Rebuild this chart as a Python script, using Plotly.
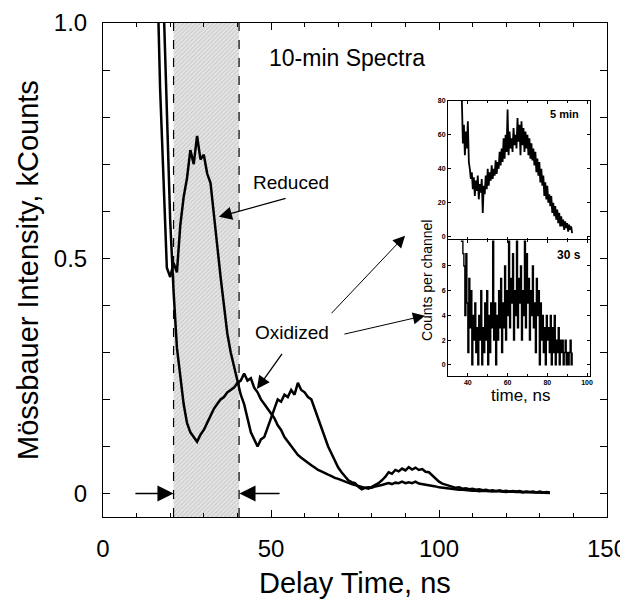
import plotly.graph_objects as go

# ---------------- data ----------------
delay_start_ns = 15
delay_step_ns = 1

reduced_kcounts = [
    1.60, 1.15, 0.86, 0.66, 0.48, 0.46, 0.49, 0.47, 0.57, 0.63,   # 15-24
    0.67, 0.73, 0.70, 0.76, 0.71, 0.72, 0.68, 0.66, 0.59, 0.53,   # 25-34
    0.46, 0.40, 0.34, 0.30, 0.27, 0.24, 0.21, 0.19, 0.16, 0.13,   # 35-44
    0.115, 0.10, 0.115, 0.12, 0.14, 0.16, 0.18, 0.20, 0.195, 0.21,  # 45-54
    0.205, 0.22, 0.21, 0.235, 0.22, 0.215, 0.205, 0.20, 0.18, 0.16,  # 55-64
    0.14, 0.12, 0.10, 0.085, 0.07, 0.055, 0.045, 0.036, 0.028, 0.024,  # 65-74
    0.022, 0.014, 0.009, 0.012, 0.010, 0.014, 0.018, 0.022, 0.028, 0.035,  # 75-84
    0.045, 0.042, 0.050, 0.047, 0.053, 0.049, 0.056, 0.051, 0.055, 0.050,  # 85-94
    0.052, 0.046, 0.045, 0.038, 0.030, 0.025, 0.021, 0.019, 0.016, 0.015,  # 95-104
    0.012, 0.013, 0.010, 0.011, 0.009, 0.010, 0.008, 0.009, 0.007, 0.008,  # 105-114
    0.006, 0.007, 0.005, 0.007, 0.005, 0.006, 0.004, 0.005, 0.004, 0.005,  # 115-124
    0.003, 0.004, 0.003, 0.004, 0.002, 0.004, 0.002, 0.003, 0.002,        # 125-133
]

oxidized_kcounts = [
    1.90, 1.55, 1.25, 1.05, 0.82, 0.58, 0.43, 0.31, 0.25, 0.19,   # 15-24
    0.15, 0.13, 0.12, 0.11, 0.125, 0.135, 0.15, 0.165, 0.18, 0.19,  # 25-34
    0.20, 0.205, 0.215, 0.22, 0.225, 0.235, 0.24, 0.255, 0.24, 0.245,  # 35-44
    0.225, 0.215, 0.20, 0.19, 0.18, 0.17, 0.16, 0.145, 0.135, 0.12,  # 45-54
    0.11, 0.10, 0.09, 0.082, 0.076, 0.07, 0.064, 0.06, 0.055, 0.05,  # 55-64
    0.047, 0.043, 0.04, 0.037, 0.033, 0.031, 0.028, 0.026, 0.022, 0.020,  # 65-74
    0.018, 0.016, 0.013, 0.012, 0.013, 0.012, 0.015, 0.016, 0.018, 0.020,  # 75-84
    0.022, 0.020, 0.023, 0.022, 0.025, 0.022, 0.024, 0.022, 0.025, 0.021,  # 85-94
    0.020, 0.019, 0.018, 0.016, 0.015, 0.013, 0.012, 0.011, 0.010, 0.009,  # 95-104
    0.009, 0.008, 0.008, 0.007, 0.007, 0.006, 0.006, 0.005, 0.006, 0.005,  # 105-114
    0.005, 0.004, 0.005, 0.004, 0.004, 0.003, 0.004, 0.003, 0.003, 0.003,  # 115-124
    0.002, 0.003, 0.002, 0.002, 0.002, 0.002, 0.001, 0.002, 0.001,        # 125-133
]

# inset: oxidized, 5-min and 30-s spectra
inset_start_5min = 37.0
inset_start_30s = 36.5
inset_step_ns = 0.5

counts_5min = [
    80, 55, 66, 48, 62, 52, 68, 44, 40, 34, 38, 28, 35, 24, 33, 27, 36, 22, 31, 26,
    34, 14, 30, 25, 36, 28, 40, 30, 38, 33, 42, 34, 40, 36, 45, 37, 44, 40, 50, 42,
    52, 44, 58, 46, 60, 50, 75, 48, 62, 52, 58, 50, 64, 54, 60, 52, 70, 56, 66, 48,
    68, 54, 64, 50, 62, 52, 60, 48, 58, 46, 55, 45, 52, 42, 50, 38, 46, 36, 44, 32,
    40, 30, 36, 24, 32, 22, 30, 20, 25, 18, 24, 14, 20, 12, 18, 10, 16, 8, 14, 6,
    12, 6, 10, 4, 9, 5, 8, 3, 7, 4, 6, 2,
]

counts_30s = [
    10, 10, 9, 8, 4, 9, 5, 1, 7, 3, 6, 0, 4, 2, 5, 1, 3, 0, 4, 2,
    6, 0, 3, 1, 5, 2, 6, 0, 4, 1, 5, 3, 10, 2, 5, 0, 4, 2, 6, 3,
    7, 1, 5, 3, 8, 2, 6, 4, 10, 3, 7, 5, 9, 2, 6, 4, 10, 3, 7, 5,
    8, 2, 6, 4, 10, 3, 9, 5, 7, 2, 6, 4, 8, 3, 5, 1, 7, 4, 6, 0,
    5, 2, 4, 1, 3, 0, 4, 2, 3, 1, 4, 0, 3, 1, 4, 0, 2, 1, 3, 0,
    2, 1, 2, 0, 1, 2, 0, 1, 0, 1, 2, 0, 1,
]

shade_start_ns = 21.0
shade_end_ns = 40.5

x_range = [0, 150]
y_range = [-0.05, 1.0]
x_tickvals = [0, 50, 100, 150]
y_tickvals = [0, 0.5, 1.0]
y_ticktext = ["0", "0.5", "1.0"]

inset_x_range = [30, 101.5]
inset_x_tickvals = [40, 60, 80, 100]
inset_5min_range = [-2, 80]
inset_5min_tickvals = [0, 20, 40, 60, 80]
inset_30s_range = [-0.9, 10.1]
inset_30s_tickvals = [0, 2, 4, 6, 8]

# ---------------- build ----------------
delay_ns = [delay_start_ns + i * delay_step_ns for i in range(len(reduced_kcounts))]
t_5min = [inset_start_5min + i * inset_step_ns for i in range(len(counts_5min))]
t_30s = [inset_start_30s + i * inset_step_ns for i in range(len(counts_30s))]

FONT = "Liberation Sans, Arial, Helvetica, sans-serif"

fig = go.Figure()

# hatched window
fig.add_trace(go.Scatter(
    x=[shade_start_ns, shade_end_ns, shade_end_ns, shade_start_ns, shade_start_ns],
    y=[y_range[0], y_range[0], y_range[1], y_range[1], y_range[0]],
    mode="lines", line=dict(width=0), fill="toself",
    fillcolor="#dedede",
    fillpattern=dict(shape="/", fgcolor="#a6a6a6", bgcolor="#e6e6e6", size=3, solidity=0.35),
    hoverinfo="skip", showlegend=False, xaxis="x", yaxis="y",
))

fig.add_trace(go.Scatter(x=delay_ns, y=oxidized_kcounts, mode="lines", name="Oxidized",
                         line=dict(color="black", width=2.5), showlegend=False))
fig.add_trace(go.Scatter(x=delay_ns, y=reduced_kcounts, mode="lines", name="Reduced",
                         line=dict(color="black", width=2.5), showlegend=False))

fig.add_trace(go.Scatter(x=t_5min, y=counts_5min, mode="lines", xaxis="x2", yaxis="y2",
                         line=dict(color="black", width=1.8), showlegend=False))
fig.add_trace(go.Scatter(x=t_30s, y=counts_30s, mode="lines", xaxis="x3", yaxis="y3",
                         line=dict(color="black", width=1.4, shape="hv"), showlegend=False))

axis_common = dict(showline=True, linecolor="black", linewidth=1, mirror="ticks",
                   ticks="inside", tickcolor="black", showgrid=False, zeroline=False,
                   automargin=False)

inset_x = [0.6845, 0.9663]
dom_30s = [0.2854, 0.5607]
dom_5min = [0.5607, 0.8421]

# the page adds an 8px body margin, so margins are shifted up/left by 8px
fig.update_layout(
    width=628, height=604,
    margin=dict(l=95, r=29, t=15, b=95),
    paper_bgcolor="white", plot_bgcolor="white",
    font=dict(family=FONT, color="black"),
    xaxis=dict(**axis_common, range=x_range, tickvals=x_tickvals, ticklen=7,
               minor=dict(dtick=10, ticks="inside", ticklen=4, tickcolor="black"),
               tickfont=dict(size=24), ticklabelstandoff=10),
    yaxis=dict(**axis_common, range=y_range, tickvals=y_tickvals, ticktext=y_ticktext,
               ticklen=7, minor=dict(dtick=0.1, ticks="inside", ticklen=7, tickcolor="black"),
               tickfont=dict(size=24), ticklabelstandoff=10),
    xaxis2=dict(**axis_common, domain=inset_x, anchor="y2", range=inset_x_range,
                tickvals=inset_x_tickvals, showticklabels=False, ticklen=3,
                minor=dict(dtick=10, ticks="inside", ticklen=2, tickcolor="black")),
    yaxis2=dict(**axis_common, domain=dom_5min, anchor="x2", range=inset_5min_range,
                tickvals=inset_5min_tickvals, ticklen=3,
                tickfont=dict(size=7, weight="bold")),
    xaxis3=dict(**axis_common, domain=inset_x, anchor="y3", range=inset_x_range,
                tickvals=inset_x_tickvals, ticklen=3,
                minor=dict(dtick=10, ticks="inside", ticklen=2, tickcolor="black"),
                tickfont=dict(size=7, weight="bold")),
    yaxis3=dict(**axis_common, domain=dom_30s, anchor="x3", range=inset_30s_range,
                tickvals=inset_30s_tickvals, ticklen=3,
                tickfont=dict(size=7, weight="bold")),
)

# axis titles
fig.add_annotation(x=0.5, y=0, xref="paper", yref="paper", xanchor="center", yanchor="middle",
                   yshift=-66, text="Delay Time, ns", showarrow=False, font=dict(size=29))
fig.add_annotation(x=0, y=0.5, xref="paper", yref="paper", xanchor="center", yanchor="middle",
                   xshift=-75, text="Mössbauer Intensity, kCounts", textangle=-90,
                   showarrow=False, font=dict(size=29))

# dashed window edges
for xv in (shade_start_ns, shade_end_ns):
    fig.add_shape(type="line", xref="x", yref="y domain", x0=xv, x1=xv, y0=0, y1=1,
                  line=dict(color="black", width=1.2, dash="dash"))

# text labels
fig.add_annotation(x=72.6, y=0.926, xref="x", yref="y", text="10-min Spectra",
                   showarrow=False, font=dict(size=23))
fig.add_annotation(x=56, y=0.66, xref="x", yref="y", text="Reduced",
                   showarrow=False, font=dict(size=19))
fig.add_annotation(x=56.3, y=0.342, xref="x", yref="y", text="Oxidized",
                   showarrow=False, font=dict(size=19))

# arrows (tail -> head)
arrows = [
    ((54.8, 0.628), (34.5, 0.588), 1.3, 2.0),
    ((53.6, 0.300), (45.8, 0.222), 1.3, 2.0),
    ((67.6, 0.380), (89.9, 0.548), 1.0, 2.4),
    ((71.4, 0.338), (95.8, 0.378), 1.0, 2.4),
    ((9.2, 0.0), (21.0, 0.0), 1.4, 2.3),
    ((53.0, 0.0), (40.6, 0.0), 1.4, 2.3),
]
for (tx, ty), (hx, hy), w, s in arrows:
    fig.add_annotation(x=hx, y=hy, ax=tx, ay=ty, xref="x", yref="y", axref="x", ayref="y",
                       text="", showarrow=True, arrowhead=2, arrowwidth=w, arrowsize=s,
                       arrowcolor="black")

# inset texts
fig.add_annotation(x=88.8, y=72.5, xref="x2", yref="y2", text="<b>5 min</b>",
                   showarrow=False, font=dict(size=11))
fig.add_annotation(x=91.0, y=8.9, xref="x3", yref="y3", text="<b>30 s</b>",
                   showarrow=False, font=dict(size=12))
fig.add_annotation(x=0.643, y=0.478, xref="paper", yref="paper", xanchor="center",
                   yanchor="middle", text="Counts per channel",
                   textangle=-90, showarrow=False, font=dict(size=14))
fig.add_annotation(x=0.829, y=0.245, xref="paper", yref="paper", xanchor="center",
                   yanchor="middle", text="time, ns",
                   showarrow=False, font=dict(size=17))

fig.write_html("out.html")
